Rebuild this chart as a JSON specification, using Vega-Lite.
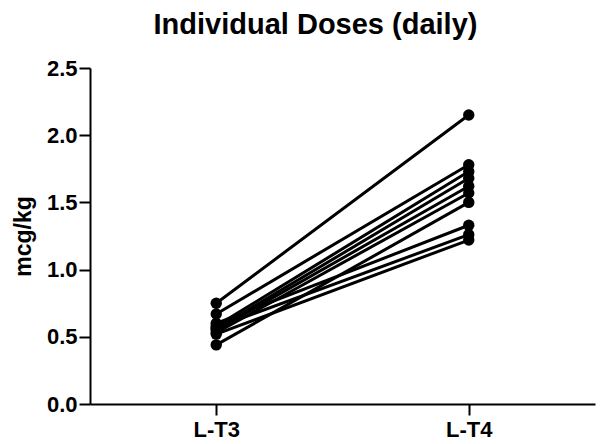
{
  "$schema": "https://vega.github.io/schema/vega-lite/v6.json",
  "autosize": "none",
  "padding": {"left": 90, "top": 68, "right": 5, "bottom": 40},
  "width": 505,
  "height": 336,
  "background": "white",
  "title": {
    "text": "Individual Doses (daily)",
    "font": "Liberation Sans",
    "fontSize": 29,
    "fontWeight": "bold",
    "color": "black",
    "anchor": "middle",
    "dx": -27,
    "offset": 17
  },
  "config": {
    "view": {"stroke": null},
    "axis": {
      "grid": false,
      "domainColor": "black",
      "domainWidth": 2,
      "tickColor": "black",
      "tickWidth": 2,
      "tickSize": 11,
      "labelFont": "Liberation Sans",
      "labelFontWeight": "bold",
      "labelFontSize": 22,
      "labelColor": "black",
      "titleFont": "Liberation Sans",
      "titleFontWeight": "bold",
      "titleFontSize": 23,
      "titleColor": "black"
    }
  },
  "data": {
    "values": [
      {"id": "A", "drug": "L-T3", "dose": 0.75}, {"id": "A", "drug": "L-T4", "dose": 2.15},
      {"id": "B", "drug": "L-T3", "dose": 0.67}, {"id": "B", "drug": "L-T4", "dose": 1.78},
      {"id": "C", "drug": "L-T3", "dose": 0.58}, {"id": "C", "drug": "L-T4", "dose": 1.73},
      {"id": "D", "drug": "L-T3", "dose": 0.56}, {"id": "D", "drug": "L-T4", "dose": 1.68},
      {"id": "E", "drug": "L-T3", "dose": 0.55}, {"id": "E", "drug": "L-T4", "dose": 1.62},
      {"id": "F", "drug": "L-T3", "dose": 0.53}, {"id": "F", "drug": "L-T4", "dose": 1.57},
      {"id": "G", "drug": "L-T3", "dose": 0.44}, {"id": "G", "drug": "L-T4", "dose": 1.50},
      {"id": "H", "drug": "L-T3", "dose": 0.60}, {"id": "H", "drug": "L-T4", "dose": 1.33},
      {"id": "I", "drug": "L-T3", "dose": 0.57}, {"id": "I", "drug": "L-T4", "dose": 1.26},
      {"id": "J", "drug": "L-T3", "dose": 0.52}, {"id": "J", "drug": "L-T4", "dose": 1.22}
    ]
  },
  "encoding": {
    "x": {
      "field": "drug",
      "type": "nominal",
      "scale": {"type": "point", "padding": 0.5},
      "axis": {"title": null, "labelAngle": 0, "labelPadding": 4}
    },
    "y": {
      "field": "dose",
      "type": "quantitative",
      "scale": {"domain": [0, 2.5], "nice": false},
      "axis": {"title": "mcg/kg", "values": [0, 0.5, 1, 1.5, 2, 2.5], "format": ".1f", "labelPadding": 2, "titlePadding": 11}
    }
  },
  "layer": [
    {
      "mark": {"type": "line", "color": "black", "strokeWidth": 3},
      "encoding": {"detail": {"field": "id"}}
    },
    {
      "mark": {"type": "point", "filled": true, "color": "black", "opacity": 1, "size": 130}
    }
  ]
}
